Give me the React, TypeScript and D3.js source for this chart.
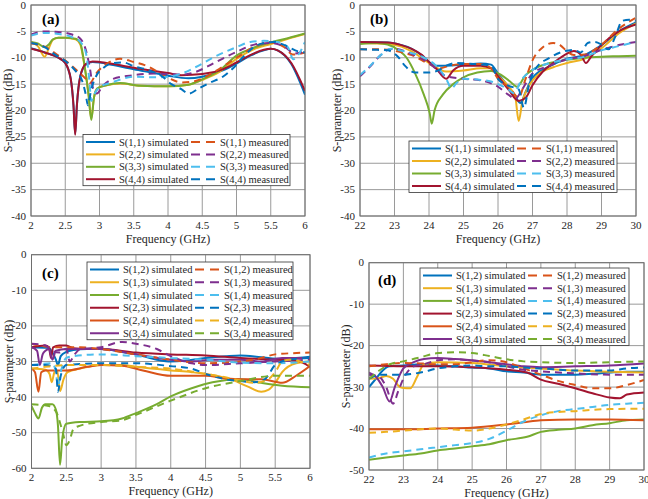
import React from "react";
import * as d3 from "d3";

type Pt = [number, number];

// ---------- (a) reflection, 2–6 GHz ----------
const aS11Sim: Pt[] = [[2, -8.2], [2.2, -9], [2.4, -10], [2.5, -11], [2.58, -14], [2.62, -19], [2.645, -24.4], [2.67, -19], [2.72, -13.5], [2.8, -11.3], [2.9, -10.8], [3, -10.9], [3.2, -11.4], [3.5, -12.2], [3.8, -12.9], [4, -13.4], [4.3, -13.9], [4.5, -13.6], [4.8, -12.4], [5, -11.1], [5.2, -9.6], [5.4, -8.6], [5.5, -8.3], [5.6, -8.6], [5.8, -11.2], [6, -17]];
const aS22Sim: Pt[] = [[2, -7], [2.1, -7.8], [2.2, -9.8], [2.25, -8.5], [2.32, -6.6], [2.4, -6.2], [2.5, -6.2], [2.65, -6.5], [2.72, -7.5], [2.78, -11.5], [2.84, -17], [2.88, -21.5], [2.92, -17.5], [2.97, -15.8], [3.1, -15.2], [3.3, -14.9], [3.6, -15.3], [4, -15.4], [4.3, -15.1], [4.5, -14.2], [4.75, -12.7], [5, -10.2], [5.25, -8.4], [5.5, -7.4], [5.75, -6.4], [6, -5.5]];
const aS33Sim: Pt[] = [[2, -7], [2.1, -7.3], [2.2, -8], [2.26, -7.5], [2.32, -6.5], [2.4, -6.2], [2.5, -6.2], [2.65, -6.4], [2.72, -7.2], [2.78, -11.3], [2.84, -17], [2.88, -21.8], [2.92, -17.5], [2.97, -15.8], [3.1, -15.2], [3.3, -14.8], [3.6, -15.3], [4, -15.4], [4.3, -15.1], [4.5, -14.1], [4.75, -12.4], [5, -9.6], [5.25, -8.1], [5.5, -7.1], [5.75, -6.3], [6, -5.4]];
const aS44Sim: Pt[] = [[2, -8.3], [2.2, -9], [2.4, -10], [2.5, -11], [2.58, -14], [2.62, -19], [2.645, -24.6], [2.67, -19], [2.72, -13.5], [2.8, -11.2], [2.9, -10.7], [3, -10.8], [3.2, -11.2], [3.5, -11.9], [3.8, -12.5], [4, -12.9], [4.2, -13.3], [4.5, -13.1], [4.8, -12.2], [5, -10.9], [5.2, -9.5], [5.4, -8.5], [5.5, -8.3], [5.6, -8.6], [5.8, -11], [6, -16.3]];
const aS11Meas: Pt[] = [[2, -7.3], [2.2, -7.9], [2.4, -9.6], [2.55, -11], [2.7, -12.8], [2.8, -14], [2.86, -14.8], [2.95, -13], [3.1, -11.2], [3.3, -10.2], [3.5, -10.8], [3.7, -11.6], [4, -13.8], [4.2, -14.7], [4.4, -14.4], [4.7, -12.5], [5, -10], [5.3, -7.7], [5.5, -7.1], [5.7, -8], [5.82, -9.4], [6, -9]];
const aS22Meas: Pt[] = [[2, -5.6], [2.2, -5], [2.4, -5.1], [2.6, -5.6], [2.72, -6.4], [2.8, -8.5], [2.86, -12], [2.91, -16], [2.96, -16.8], [3.05, -15.3], [3.2, -14], [3.5, -13.3], [3.8, -13], [4, -13.1], [4.2, -13.2], [4.4, -12.7], [4.7, -10.8], [5, -8.9], [5.3, -7.4], [5.5, -7.2], [5.7, -7.9], [5.85, -9.2], [6, -8.8]];
const aS33Meas: Pt[] = [[2, -5.8], [2.2, -5.3], [2.4, -5.5], [2.6, -6.1], [2.72, -7], [2.8, -9], [2.85, -14], [2.88, -18.2], [2.92, -17], [3, -15.6], [3.2, -14.6], [3.5, -13.6], [3.8, -13.7], [4, -13.6], [4.2, -13], [4.4, -11.8], [4.7, -9.7], [5, -8], [5.2, -7], [5.4, -6.8], [5.6, -7], [5.75, -8], [5.83, -10.3], [5.9, -9.5], [6, -7]];
const aS44Meas: Pt[] = [[2, -7.2], [2.2, -8], [2.35, -9.4], [2.5, -10.6], [2.65, -12.5], [2.75, -14.5], [2.8, -17], [2.83, -19], [2.88, -16], [2.95, -13.5], [3.05, -12], [3.2, -11], [3.35, -10.9], [3.5, -11.6], [3.7, -12.3], [3.9, -13.4], [4.05, -15], [4.2, -16], [4.3, -16.8], [4.45, -15.8], [4.6, -14.8], [4.8, -13.6], [4.95, -12], [5.1, -9.8], [5.25, -8], [5.4, -7.2], [5.55, -7], [5.7, -7.6], [5.9, -8.8], [6, -9]];

// ---------- (b) reflection, 22–30 GHz ----------
const bS11Sim: Pt[] = [[22, -7], [22.8, -7.1], [23.2, -7.6], [23.5, -8.3], [23.8, -9.6], [24, -10.8], [24.2, -11.5], [24.5, -11.5], [25, -11.3], [25.5, -11.1], [25.8, -11.3], [26, -13], [26.3, -15.5], [26.5, -17.3], [26.65, -18.6], [26.8, -16.5], [27, -13.8], [27.5, -11.6], [28, -10.2], [28.5, -9.5], [29, -7.6], [29.5, -5], [30, -3.3]];
const bS22Sim: Pt[] = [[22, -7.2], [22.8, -7.4], [23.2, -7.9], [23.5, -8.8], [24, -11], [24.5, -12.6], [25, -12.4], [25.5, -12], [25.8, -12], [26, -13.4], [26.3, -15.4], [26.5, -17.4], [26.6, -22], [26.7, -18.5], [26.9, -15.3], [27.2, -13], [27.6, -11.8], [28, -11], [28.5, -10.2], [29, -8.2], [29.5, -5.4], [30, -3.5]];
const bS33Sim: Pt[] = [[22, -7.4], [22.5, -7.2], [22.8, -7.5], [23.1, -8.5], [23.35, -10], [23.6, -13], [23.85, -17], [24.02, -20.5], [24.08, -22.5], [24.16, -20], [24.4, -17], [24.7, -15], [25, -13.7], [25.4, -12.8], [25.8, -12.5], [26.1, -13.3], [26.35, -14.5], [26.55, -15.5], [26.8, -13.3], [27, -12.3], [27.5, -11], [28, -10.4], [28.5, -10], [29, -9.8], [29.5, -9.7], [30, -9.6]];
const bS44Sim: Pt[] = [[22, -7], [22.8, -7.1], [23.2, -7.6], [23.5, -8.3], [23.8, -9.5], [24, -10.8], [24.2, -12], [24.5, -14], [24.7, -12.4], [25, -11.5], [25.5, -11.5], [25.8, -12], [26, -13.5], [26.3, -16], [26.6, -18.2], [26.8, -17.6], [27, -15.2], [27.3, -12.6], [27.6, -11], [28, -9.2], [28.2, -8.7], [28.4, -9.4], [28.55, -11], [28.7, -9.8], [29, -7.6], [29.5, -5], [30, -3.7]];
const bS11Meas: Pt[] = [[22, -8.4], [22.5, -8.4], [23, -8.7], [23.5, -9.5], [24, -11.2], [24.3, -12], [24.6, -11.5], [25, -11.2], [25.5, -11.2], [25.8, -12], [26, -14], [26.3, -15.5], [26.6, -17.5], [26.8, -14], [27, -10.5], [27.3, -8], [27.6, -7.2], [27.8, -7.6], [28, -8.8], [28.2, -9.5], [28.5, -9.4], [29, -7.5], [29.5, -4.5], [30, -2.4]];
const bS22Meas: Pt[] = [[22, -13.5], [22.3, -11.6], [22.6, -9.5], [22.8, -8.5], [23, -8.3], [23.5, -9.3], [24, -11], [24.5, -13.5], [25, -14], [25.5, -14.3], [26, -15.5], [26.3, -17], [26.5, -17.8], [26.7, -16], [27, -13], [27.5, -11.5], [28, -10.3], [28.5, -9.7], [29, -8.5], [29.5, -7.6], [30, -7]];
const bS33Meas: Pt[] = [[22, -13.3], [22.3, -11.5], [22.6, -9.5], [22.9, -8.3], [23.3, -8.8], [23.8, -9.8], [24.2, -11.5], [24.5, -14], [24.65, -15.8], [24.8, -14.8], [25, -14], [25.5, -14.2], [25.8, -14.5], [26, -15], [26.3, -16], [26.45, -16.7], [26.7, -14], [27, -12.3], [27.5, -11], [28, -10.3], [28.5, -9.8], [29, -8.6], [29.5, -7.8], [30, -7]];
const bS44Meas: Pt[] = [[22, -8.4], [22.5, -8.5], [22.8, -8.6], [23.1, -9.8], [23.3, -11.5], [23.6, -12.8], [24, -12.8], [24.3, -12.3], [24.5, -11.5], [24.8, -11], [25.3, -11.2], [25.8, -11.5], [26, -14], [26.3, -15.3], [26.6, -16], [26.75, -19.5], [26.9, -15], [27.1, -12], [27.5, -10], [27.9, -8.8], [28.2, -8.5], [28.4, -9], [28.6, -7.2], [28.8, -7], [29, -7.5], [29.2, -8.4], [29.4, -6], [29.6, -3], [29.8, -2.8], [30, -3]];

// ---------- (c) isolation, 2–6 GHz ----------
const cS12Sim: Pt[] = [[2, -26], [2.25, -26.2], [2.3, -27.5], [2.35, -29.5], [2.38, -31], [2.42, -28.5], [2.5, -27.3], [2.6, -26.8], [2.8, -26.5], [3, -26.5], [3.3, -27.3], [3.5, -28], [3.8, -29.5], [4, -30], [4.2, -29.8], [4.5, -29], [4.8, -28.5], [5, -28.3], [5.3, -28.8], [5.6, -29.3], [5.8, -29], [6, -28.7]];
const cS13Sim: Pt[] = [[2, -32], [2.2, -32.3], [2.26, -33.5], [2.29, -35.8], [2.33, -33], [2.37, -32.5], [2.41, -38.3], [2.46, -35], [2.52, -33], [2.7, -32], [3, -31], [3.3, -31], [3.5, -31.5], [4, -32.5], [4.3, -33], [4.6, -33.8], [4.9, -35.3], [5.1, -37], [5.3, -38.5], [5.4, -38], [5.5, -36], [5.6, -33], [5.8, -30.5], [6, -30]];
const cS14Sim: Pt[] = [[2, -42.5], [2.05, -44.5], [2.1, -46], [2.15, -43], [2.2, -42], [2.3, -42], [2.35, -43.5], [2.38, -48], [2.41, -59], [2.44, -52], [2.5, -47.5], [2.7, -47], [3, -46.8], [3.3, -46], [3.5, -44.5], [3.8, -42], [4, -39.8], [4.3, -37.5], [4.6, -35.8], [5, -35], [5.3, -36], [5.6, -36.8], [6, -37.2]];
const cS23Sim: Pt[] = [[2, -26], [2.2, -25.5], [2.25, -26], [2.28, -29], [2.31, -26], [2.4, -25.5], [2.5, -25.5], [2.6, -26.3], [2.8, -26.5], [3, -26.5], [3.5, -27.5], [4, -28], [4.5, -28.3], [5, -29], [5.5, -29.5], [5.8, -29.7], [6, -31.5]];
const cS24Sim: Pt[] = [[2, -32], [2.05, -33], [2.1, -38.5], [2.14, -33], [2.2, -32.5], [2.5, -32.5], [2.8, -31.5], [3, -31], [3.3, -31.2], [3.6, -32.5], [4, -34], [4.5, -34], [4.8, -34.8], [5, -35], [5.3, -35], [5.6, -36], [5.8, -34], [6, -31.3]];
const cS34Sim: Pt[] = [[2, -26], [2.08, -27], [2.12, -31], [2.16, -28], [2.2, -27], [2.25, -26.5], [2.3, -29.5], [2.35, -27], [2.5, -26.5], [2.7, -26.5], [3, -26.5], [3.5, -28], [4, -29.5], [4.3, -30], [4.6, -29.5], [5, -29.5], [5.3, -30], [5.6, -29], [6, -29]];
const cS12Meas: Pt[] = [[2, -25], [2.3, -26], [2.5, -26], [2.7, -26], [3, -26.5], [3.5, -28], [4, -29.5], [4.5, -30.5], [5, -30], [5.3, -29], [5.5, -28], [6, -27.5]];
const cS13Meas: Pt[] = [[2, -25], [2.2, -25.5], [2.3, -27], [2.4, -27.5], [2.5, -26.5], [2.55, -30], [2.62, -28], [2.7, -26.5], [3, -26], [3.3, -24.5], [3.5, -25], [3.8, -26.5], [4, -28.5], [4.3, -30.5], [4.5, -31], [5, -30.5], [5.5, -30], [6, -29.5]];
const cS14Meas: Pt[] = [[2, -31], [2.3, -30.5], [2.35, -33], [2.38, -37], [2.42, -33], [2.5, -29], [2.6, -28.5], [3, -28], [3.5, -28.5], [4, -29], [4.5, -29.5], [5, -30.3], [5.5, -30.5], [6, -30]];
const cS23Meas: Pt[] = [[2, -31], [2.2, -31], [2.35, -32], [2.38, -38.5], [2.42, -34], [2.5, -31], [3, -30.5], [3.5, -30.5], [4, -31.3], [4.3, -32], [4.5, -33.5], [4.8, -35], [5, -35.5], [5.2, -35.8], [5.35, -35], [5.5, -31], [5.7, -29.5], [6, -29]];
const cS24Meas: Pt[] = [[2, -32], [2.2, -31.5], [2.5, -31], [3, -31], [3.5, -31.5], [4, -32], [4.5, -33.5], [4.8, -34.5], [5, -35.3], [5.2, -36], [5.4, -35], [5.5, -33], [5.6, -30], [5.7, -29.5], [6, -31]];
const cS34Meas: Pt[] = [[2, -42], [2.25, -42.5], [2.35, -44], [2.45, -50], [2.5, -53.5], [2.55, -52], [2.6, -49], [2.7, -48], [3, -47], [3.3, -46.5], [3.5, -45], [4, -41], [4.5, -37.5], [5, -35.5], [5.5, -34], [6, -34]];

// ---------- (d) isolation, 22–30 GHz ----------
const dS12Sim: Pt[] = [[22, -30], [22.2, -28], [22.4, -26], [22.6, -25], [23, -24.8], [23.5, -24.5], [24, -24.8], [24.5, -25], [25, -25.3], [25.5, -25.5], [26, -26.2], [26.5, -26.5], [27, -27], [27.5, -27], [28, -27], [28.5, -26.8], [29, -26.5], [29.5, -26.3], [30, -26.3]];
const dS13Sim: Pt[] = [[22, -28], [22.3, -27.8], [22.5, -27.3], [22.7, -28], [22.9, -30], [23, -30.2], [23.2, -30.3], [23.4, -27.5], [23.6, -24.5], [24, -24], [25, -24.2], [26, -25], [27, -25.5], [28, -26], [29, -26.3], [30, -26.5]];
const dS14Sim: Pt[] = [[22, -47.5], [22.5, -47], [23, -46.5], [23.5, -46], [24, -45.3], [24.5, -44.8], [25, -44.3], [25.5, -43.8], [26, -42.8], [26.6, -42], [27, -40.8], [27.5, -40.3], [28, -40], [28.5, -39.2], [29, -38.7], [29.5, -38], [30, -37.8]];
const dS23Sim: Pt[] = [[22, -24.8], [23, -25], [24, -25], [25, -25.2], [26, -25.8], [26.6, -26.5], [27, -28.2], [27.5, -29.2], [28, -30.3], [28.5, -31.5], [29, -32.5], [29.3, -32.7], [29.5, -31.8], [30, -31.3]];
const dS24Sim: Pt[] = [[22, -40.2], [23, -40.2], [24, -40], [25, -39.8], [26, -39], [26.5, -38.5], [27, -38], [28, -37.8], [29, -37.8], [30, -38]];
const dS34Sim: Pt[] = [[22, -26.5], [22.2, -27.5], [22.4, -30], [22.6, -33.5], [22.75, -30], [23, -25.5], [23.3, -24], [23.6, -23.2], [24, -23], [24.5, -23.2], [25, -23.5], [25.5, -24], [26, -24.5], [26.5, -25], [27, -25.2], [28, -25], [29, -24.8], [30, -24.3]];
const dS12Meas: Pt[] = [[22, -25], [22.5, -24.5], [23, -24.2], [23.5, -24.3], [24, -24.5], [24.5, -24.5], [25, -24], [25.5, -23.5], [26, -24], [26.5, -25.5], [27, -27], [27.5, -28.5], [28, -29.5], [28.5, -30.3], [29, -30.3], [29.5, -29.5], [30, -28.3]];
const dS13Meas: Pt[] = [[22, -27], [22.3, -27.5], [22.5, -30], [22.7, -34], [22.85, -31], [23, -28], [23.3, -25], [23.6, -24.5], [24, -23.5], [24.5, -23.3], [25, -23.6], [25.5, -24], [26, -25], [26.5, -25.8], [27, -26.2], [28, -26.7], [29, -27], [30, -27]];
const dS14Meas: Pt[] = [[22, -47], [22.5, -46], [23, -45.5], [23.5, -45], [24, -44.5], [24.5, -44], [25, -43.5], [25.5, -42.5], [26, -40.5], [26.5, -38.3], [27, -36.8], [27.5, -35.8], [28, -35.3], [28.5, -34.8], [29, -34.3], [29.5, -34], [30, -33.8]];
const dS23Meas: Pt[] = [[22, -28], [22.3, -27], [22.6, -27], [23, -27], [23.5, -26.5], [24, -25.5], [24.5, -25], [25, -24.8], [25.5, -25], [26, -25], [26.5, -25.3], [27, -25.5], [28, -26], [29, -26], [29.5, -25.5], [30, -25.3]];
const dS24Meas: Pt[] = [[22, -41], [22.5, -40.8], [23, -40.5], [24, -40], [25, -40.5], [25.5, -40], [26, -39], [26.5, -37.8], [27, -36.5], [27.5, -36], [28, -35.8], [28.5, -35.5], [29, -35.3], [30, -35.2]];
const dS34Meas: Pt[] = [[22, -28], [22.3, -26], [22.6, -24.5], [23, -23.8], [23.5, -22.8], [24, -21.8], [24.5, -21.6], [25, -21.8], [25.5, -22.5], [26, -23.3], [26.5, -23.8], [27, -24], [28, -24.2], [29, -24], [30, -23.8]];

// ---------- axes ----------
const lowBandTicks = [2, 2.5, 3, 3.5, 4, 4.5, 5, 5.5, 6];
const highBandTicks = [22, 23, 24, 25, 26, 27, 28, 29, 30];
const reflTicks = [0, -5, -10, -15, -20, -25, -30, -35, -40];
const isoLowTicks = [0, -10, -20, -30, -40, -50, -60];
const isoHighTicks = [0, -10, -20, -30, -40, -50];

const reflNames = ["S(1,1)", "S(2,2)", "S(3,3)", "S(4,4)"];
const isoNames = ["S(1,2)", "S(1,3)", "S(1,4)", "S(2,3)", "S(2,4)", "S(3,4)"];

// MATLAB default palette
const BLUE = "#0072BD";
const ORANGE = "#D95319";
const YELLOW = "#EDB120";
const PURPLE = "#7E2F8E";
const GREEN = "#77AC30";
const CYAN = "#4DBEEE";
const RED = "#A2142F";

const reflSimColors = [BLUE, YELLOW, GREEN, RED];
const reflMeasColors = [ORANGE, PURPLE, CYAN, BLUE];
const isoSimColors = [BLUE, YELLOW, GREEN, RED, ORANGE, PURPLE];
const isoMeasColors = [ORANGE, PURPLE, CYAN, BLUE, YELLOW, GREEN];

interface Panel {
  id: string;
  tag: string;
  x0: number; x1: number; y0: number; y1: number;
  xDomain: [number, number];
  yDomain: [number, number];
  xTicks: number[];
  yTicks: number[];
  names: string[];
  sims: Pt[][];
  meas: Pt[][];
  simColors: string[];
  measColors: string[];
  legend: { x: number; y: number; w: number; step: number };
  tagPos: [number, number];
}

const panels: Panel[] = [
  {
    id: "a", tag: "(a)", x0: 31, x1: 305, y0: 5, y1: 216,
    xDomain: [2, 6], yDomain: [-40, 0], xTicks: lowBandTicks, yTicks: reflTicks,
    names: reflNames, sims: [aS11Sim, aS22Sim, aS33Sim, aS44Sim], meas: [aS11Meas, aS22Meas, aS33Meas, aS44Meas],
    simColors: reflSimColors, measColors: reflMeasColors,
    legend: { x: 83, y: 134.5, w: 207, step: 12.4 }, tagPos: [42, 24],
  },
  {
    id: "b", tag: "(b)", x0: 360, x1: 636, y0: 5, y1: 216,
    xDomain: [22, 30], yDomain: [-40, 0], xTicks: highBandTicks, yTicks: reflTicks,
    names: reflNames, sims: [bS11Sim, bS22Sim, bS33Sim, bS44Sim], meas: [bS11Meas, bS22Meas, bS33Meas, bS44Meas],
    simColors: reflSimColors, measColors: reflMeasColors,
    legend: { x: 409, y: 141, w: 208, step: 12.5 }, tagPos: [370, 24],
  },
  {
    id: "c", tag: "(c)", x0: 31.5, x1: 310, y0: 254.7, y1: 468.3,
    xDomain: [2, 6], yDomain: [-60, 0], xTicks: lowBandTicks, yTicks: isoLowTicks,
    names: isoNames, sims: [cS12Sim, cS13Sim, cS14Sim, cS23Sim, cS24Sim, cS34Sim],
    meas: [cS12Meas, cS13Meas, cS14Meas, cS23Meas, cS24Meas, cS34Meas],
    simColors: isoSimColors, measColors: isoMeasColors,
    legend: { x: 87, y: 262, w: 206, step: 12.75 }, tagPos: [42, 278],
  },
  {
    id: "d", tag: "(d)", x0: 369, x1: 644, y0: 262.7, y1: 470,
    xDomain: [22, 30], yDomain: [-50, 0], xTicks: highBandTicks, yTicks: isoHighTicks,
    names: isoNames, sims: [dS12Sim, dS13Sim, dS14Sim, dS23Sim, dS24Sim, dS34Sim],
    meas: [dS12Meas, dS13Meas, dS14Meas, dS23Meas, dS24Meas, dS34Meas],
    simColors: isoSimColors, measColors: isoMeasColors,
    legend: { x: 420, y: 268, w: 209, step: 12.7 }, tagPos: [378, 285],
  },
];

const FONT = "Liberation Serif, Times New Roman, DejaVu Serif, serif";
const TEXT = "#262626";
const GRID = "#9a9a9a";
const DASH = "7 5";

const txt = (size: number, weight = "normal"): React.CSSProperties => ({
  fontFamily: FONT,
  fontSize: `${size}px`,
  fontWeight: weight as any,
});

function PanelView({ p }: { p: Panel }) {
  const x = d3.scaleLinear().domain(p.xDomain).range([p.x0, p.x1]);
  const y = d3.scaleLinear().domain(p.yDomain).range([p.y1, p.y0]);
  const line = d3
    .line<Pt>()
    .x((d) => x(d[0]))
    .y((d) => y(d[1]))
    .curve(d3.curveMonotoneX);
  const clipId = `clip-${p.id}`;
  const lg = p.legend;
  const rows = p.names.length;
  const lgH = 7.5 + (rows - 1) * lg.step + 6.5;

  return (
    <g>
      <defs>
        <clipPath id={clipId}>
          <rect x={p.x0} y={p.y0} width={p.x1 - p.x0} height={p.y1 - p.y0} />
        </clipPath>
      </defs>
      <rect x={p.x0} y={p.y0} width={p.x1 - p.x0} height={p.y1 - p.y0} fill="#fff" />

      {/* grid */}
      {p.xTicks.map((t) => (
        <line key={`gx${t}`} x1={x(t)} x2={x(t)} y1={p.y0} y2={p.y1} stroke={GRID} strokeWidth={1} />
      ))}
      {p.yTicks.map((t) => (
        <line key={`gy${t}`} x1={p.x0} x2={p.x1} y1={y(t)} y2={y(t)} stroke={GRID} strokeWidth={1} />
      ))}

      {/* curves: simulated first, then measured */}
      <g clipPath={`url(#${clipId})`} fill="none" strokeLinejoin="round">
        {p.sims.map((s, i) => (
          <path key={`s${i}`} d={line(s) ?? ""} stroke={p.simColors[i]} strokeWidth={2} />
        ))}
        {p.meas.map((s, i) => (
          <path key={`m${i}`} d={line(s) ?? ""} stroke={p.measColors[i]} strokeWidth={2} strokeDasharray={DASH} />
        ))}
      </g>

      <rect x={p.x0} y={p.y0} width={p.x1 - p.x0} height={p.y1 - p.y0} fill="none" stroke="#6e6e6e" strokeWidth={1} />

      {/* tick labels */}
      {p.xTicks.map((t) => (
        <text key={`tx${t}`} x={x(t)} y={p.y1 + 13} textAnchor="middle" fill={TEXT} style={txt(11)}>
          {t}
        </text>
      ))}
      {p.yTicks.map((t) => (
        <text key={`ty${t}`} x={p.x0 - 5} y={y(t) + 3.5} textAnchor="end" fill={TEXT} style={txt(11)}>
          {t}
        </text>
      ))}

      <text x={(p.x0 + p.x1) / 2} y={p.y1 + 27} textAnchor="middle" fill={TEXT} style={txt(12)}>
        Frequency (GHz)
      </text>
      <text
        transform={`translate(${p.x0 - 19},${(p.y0 + p.y1) / 2}) rotate(-90)`}
        textAnchor="middle"
        fill={TEXT}
        style={txt(12)}
      >
        S-parameter (dB)
      </text>

      <text x={p.tagPos[0]} y={p.tagPos[1]} fill="#000" style={txt(15, "bold")}>
        {p.tag}
      </text>

      {/* legend */}
      <rect x={lg.x} y={lg.y} width={lg.w} height={lgH} fill="#fff" stroke="#333" strokeWidth={0.8} />
      {p.names.map((n, i) => {
        const cy = lg.y + 7.5 + i * lg.step;
        return (
          <g key={`lg${i}`}>
            <line x1={lg.x + 3} x2={lg.x + 32} y1={cy} y2={cy} stroke={p.simColors[i]} strokeWidth={2} />
            <text x={lg.x + 36} y={cy + 3.5} fill={TEXT} style={txt(10.5)}>
              {`${n} simulated`}
            </text>
            <line x1={lg.x + 108} x2={lg.x + 134} y1={cy} y2={cy} stroke={p.measColors[i]} strokeWidth={2} strokeDasharray="9 6" />
            <text x={lg.x + 137} y={cy + 3.5} fill={TEXT} style={txt(10.5)}>
              {`${n} measured`}
            </text>
          </g>
        );
      })}
    </g>
  );
}

export default function App() {
  return (
    <div style={{ position: "absolute", left: 0, top: 0 }}>
      <svg width={648} height={499} viewBox="0 0 648 499" style={{ display: "block", background: "#fff" }}>
        {panels.map((p) => (
          <PanelView key={p.id} p={p} />
        ))}
      </svg>
    </div>
  );
}
